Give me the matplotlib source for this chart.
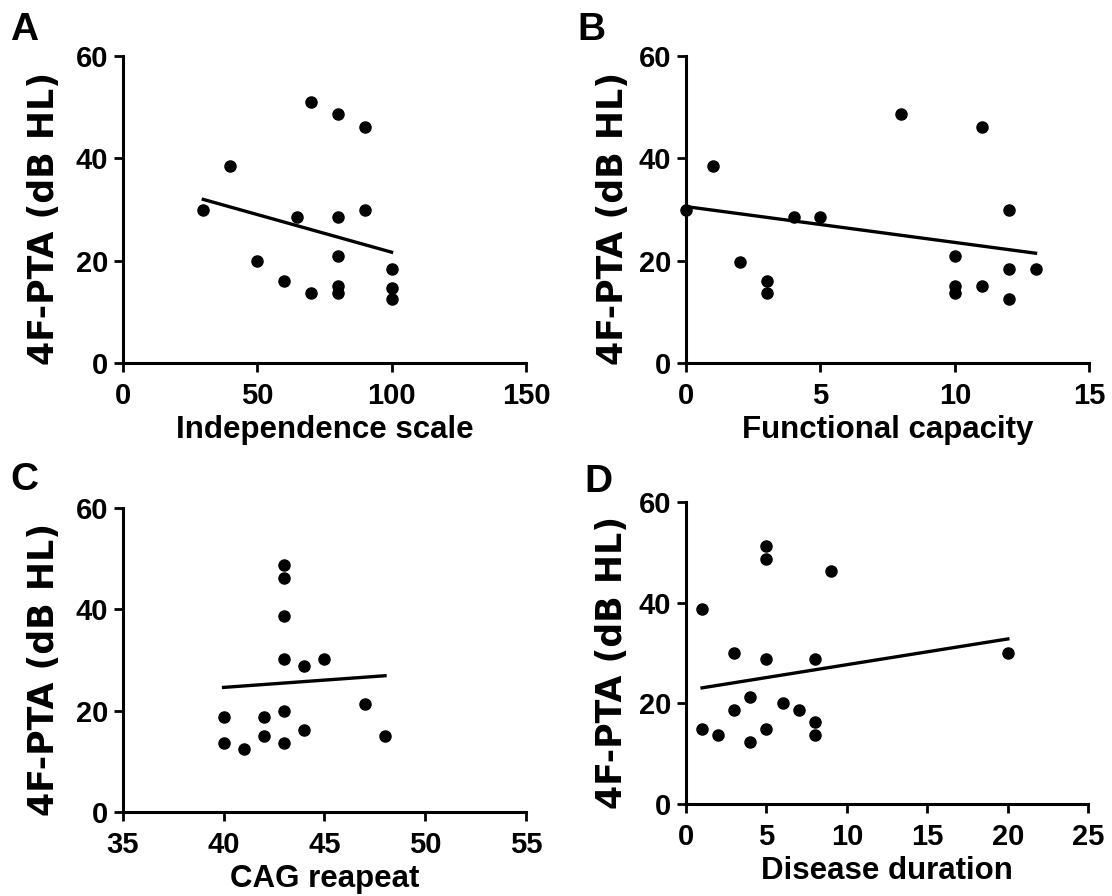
import matplotlib
matplotlib.use("Agg")
import matplotlib.pyplot as plt

plt.rcParams['font.family'] = ['Liberation Sans', 'DejaVu Sans']
plt.rcParams['font.weight'] = 'bold'

# Datos
ylabel = '4F-PTA (dB HL)'

# A: Independence scale
indep_x = [30, 40, 50, 60, 65, 70, 70, 80, 80, 80, 80, 80, 90, 90, 100, 100, 100]
indep_y = [30, 38.6, 20, 16.1, 28.6, 51.1, 13.7, 48.7, 28.6, 21.0, 15.0, 13.7, 46.1, 29.9, 18.5, 14.8, 12.5]
indep_fit_x = [30, 100]
indep_fit_y = [32.0, 21.7]

# B: Functional capacity
func_x = [0, 1, 2, 3, 3, 4, 5, 8, 10, 10, 10, 11, 11, 12, 12, 12, 13]
func_y = [29.9, 38.6, 19.8, 16.1, 13.7, 28.6, 28.6, 48.7, 21.0, 15.0, 13.7, 46.1, 15.0, 29.9, 18.5, 12.5, 18.5]
func_fit_x = [0, 13]
func_fit_y = [30.6, 21.5]

# C: CAG repeat
cag_x = [40, 40, 41, 42, 42, 43, 43, 43, 43, 43, 43, 44, 44, 45, 47, 48]
cag_y = [18.8, 13.7, 12.4, 18.8, 15.0, 48.7, 46.2, 38.7, 30.1, 20.0, 13.7, 28.8, 16.3, 30.1, 21.3, 15.0]
cag_fit_x = [40, 48]
cag_fit_y = [24.6, 26.9]

# D: Disease duration
dur_x = [1, 1, 2, 3, 3, 4, 4, 5, 5, 5, 5, 6, 7, 8, 8, 8, 9, 20]
dur_y = [38.7, 15.0, 13.7, 30.1, 18.8, 21.2, 12.4, 51.2, 48.7, 28.8, 15.0, 20.0, 18.8, 28.8, 16.3, 13.7, 46.2, 30.1]
dur_fit_x = [1, 20]
dur_fit_y = [23.1, 32.8]

paneles = [
    # letra, xlabel, x, y, fit_x, fit_y, xlim, xticks, posicion, offset ylabel (px)
    ('A', 'Independence scale', indep_x, indep_y, indep_fit_x, indep_fit_y,
     (0, 150), [0, 50, 100, 150], [0.1103, 0.5945, 0.3627, 0.3430], -62),
    ('B', 'Functional capacity', func_x, func_y, func_fit_x, func_fit_y,
     (0, 15), [0, 5, 10, 15], [0.6169, 0.5945, 0.3627, 0.3430], -56),
    ('C', 'CAG reapeat', cag_x, cag_y, cag_fit_x, cag_fit_y,
     (35, 55), [35, 40, 45, 50, 55], [0.1103, 0.0934, 0.3630, 0.3400], -62),
    ('D', 'Disease duration', dur_x, dur_y, dur_fit_x, dur_fit_y,
     (0, 25), [0, 5, 10, 15, 20, 25], [0.6169, 0.1023, 0.3618, 0.3377], -57),
]

# posiciones de las letras en pixeles (x, y desde arriba)
letras_pos = {'A': (10, 40), 'B': (577, 40), 'C': (10, 490), 'D': (584, 492)}

fig = plt.figure(figsize=(11.12, 8.96), dpi=100)

for letra, xlabel, x, y, fx, fy, xlim, xticks, pos, off in paneles:
    ax = fig.add_axes(pos)
    ax.plot(x, y, 'o', color='black', markersize=8, clip_on=False, zorder=3)
    ax.plot(fx, fy, '-', color='black', linewidth=2.4, clip_on=False)
    ax.set_xlim(*xlim)
    ax.set_ylim(0, 60)
    ax.set_xticks(xticks)
    ax.set_yticks([0, 20, 40, 60])
    ax.spines['top'].set_visible(False)
    ax.spines['right'].set_visible(False)
    for s in ['left', 'bottom']:
        ax.spines[s].set_linewidth(2.2)
    ax.tick_params(axis='both', direction='out', length=6.5, width=2, labelsize=21)
    ax.tick_params(axis='x', pad=7)
    ax.tick_params(axis='y', pad=4)
    ax.set_xlabel(xlabel, fontsize=22.5, fontweight='bold')
    # la etiqueta Y del original esta estirada; DejaVu Sans Bold (mas ancha) la imita
    ax.set_ylabel(ylabel, fontsize=25, fontweight='bold', family=['DejaVu Sans'])
    ancho_px = pos[2] * 1112
    alto_px = pos[3] * 896
    ax.yaxis.set_label_coords(off / ancho_px, 0.47)
    ax.xaxis.set_label_coords(0.5, -52 / alto_px)
    lx, ly = letras_pos[letra]
    fig.text(lx / 1112, 1 - ly / 896, letra, fontsize=28, fontweight='bold',
             ha='left', va='baseline')

fig.savefig('out.png', dpi=100)
